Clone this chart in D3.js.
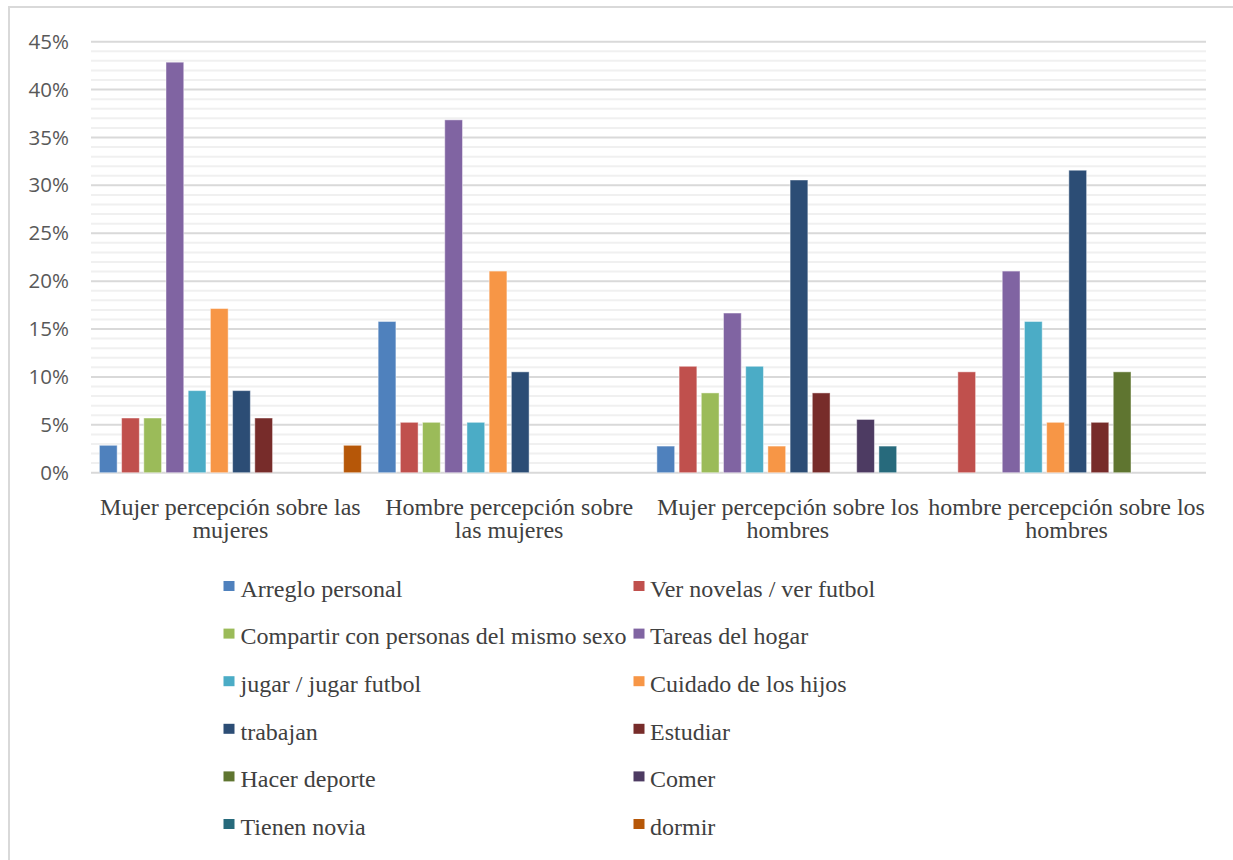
<!DOCTYPE html>
<html>
<head>
<meta charset="utf-8">
<script src="https://cdn.jsdelivr.net/npm/d3@7"></script>
<style>
  html, body { margin: 0; padding: 0; background: #fff; }
  svg { display: block; }
</style>
</head>
<body>
<svg id="chart" width="1233" height="860"></svg>
<script>
// Categories (grupos de percepción)
const categories = [
  "Mujer percepción sobre las mujeres",
  "Hombre percepción sobre las mujeres",
  "Mujer percepción sobre los hombres",
  "hombre percepción sobre los hombres"
];
// Wrapped label lines for each category
const categoryLines = [
  ["Mujer percepción sobre las", "mujeres"],
  ["Hombre percepción sobre", "las mujeres"],
  ["Mujer percepción sobre los", "hombres"],
  ["hombre percepción sobre los", "hombres"]
];

// Series (actividades)
const seriesNames = [
  "Arreglo personal", "Ver novelas / ver futbol",
  "Compartir con personas del mismo sexo", "Tareas del hogar",
  "jugar / jugar futbol", "Cuidado de los hijos",
  "trabajan", "Estudiar",
  "Hacer deporte", "Comer",
  "Tienen novia", "dormir"
];
const seriesColors = [
  "#4F81BD", "#C0504D", "#9BBB59", "#8064A2", "#4BACC6", "#F79646",
  "#2C4D75", "#772C2A", "#5F7530", "#4D3B62", "#276A7C", "#B65708"
];

// Percentages per series, one value per category
const arregloPersonal   = [2.86, 15.79, 2.78, 0];
const verNovelas        = [5.71, 5.26, 11.11, 10.53];
const compartir         = [5.71, 5.26, 8.33, 0];
const tareasHogar       = [42.86, 36.84, 16.67, 21.05];
const jugar             = [8.57, 5.26, 11.11, 15.79];
const cuidadoHijos      = [17.14, 21.05, 2.78, 5.26];
const trabajan          = [8.57, 10.53, 30.56, 31.58];
const estudiar          = [5.71, 0, 8.33, 5.26];
const hacerDeporte      = [0, 0, 0, 10.53];
const comer             = [0, 0, 5.56, 0];
const tienenNovia       = [0, 0, 2.78, 0];
const dormir            = [2.86, 0, 0, 0];

const seriesValues = [
  arregloPersonal, verNovelas, compartir, tareasHogar, jugar, cuidadoHijos,
  trabajan, estudiar, hacerDeporte, comer, tienenNovia, dormir
];

// Axis ticks
const majorTicks = [0, 5, 10, 15, 20, 25, 30, 35, 40, 45];
const minorTicks = d3.range(0, 46, 1).filter(v => v % 5 !== 0);

const svg = d3.select("#chart");

// Outer chart frame (top and left edges)
svg.append("path")
  .attr("d", "M9,860 V7 H1233")
  .attr("fill", "none")
  .attr("stroke", "#d9d9d9")
  .attr("stroke-width", 2);

const plot = { left: 91, right: 1206, top: 41.7, bottom: 472.7 };

const y = d3.scaleLinear().domain([0, 45]).range([plot.bottom, plot.top]);
const x0 = d3.scaleBand().domain(categories).range([plot.left, plot.right]).padding(0);
const x1 = d3.scaleBand().domain(seriesNames).range([0, x0.bandwidth()])
  .paddingInner(0.2).paddingOuter(0.378);

// Gridlines
svg.append("g").selectAll("line.minor")
  .data(minorTicks).join("line")
  .attr("x1", plot.left).attr("x2", plot.right)
  .attr("y1", d => y(d)).attr("y2", d => y(d))
  .attr("stroke", "#f0f0f0").attr("stroke-width", 2);

svg.append("g").selectAll("line.major")
  .data(majorTicks).join("line")
  .attr("x1", plot.left).attr("x2", plot.right)
  .attr("y1", d => y(d)).attr("y2", d => y(d))
  .attr("stroke", "#d9d9d9").attr("stroke-width", 2);

// Y axis labels
const yAxis = d3.axisLeft(y).tickValues(majorTicks).tickFormat(d => d + "%").tickSize(0).tickPadding(0);
const yg = svg.append("g").attr("transform", "translate(69,0)").call(yAxis);
yg.select(".domain").remove();
yg.selectAll("text")
  .attr("fill", "#595959")
  .style("font-family", "'Open Sans', sans-serif")
  .style("font-size", "20.5px");

// Bars
const groups = svg.append("g").selectAll("g")
  .data(categories).join("g")
  .attr("transform", d => `translate(${x0(d)},0)`);

groups.selectAll("rect")
  .data((c, ci) => seriesNames.map((s, si) => ({ s, si, v: seriesValues[si][ci] })).filter(d => d.v > 0))
  .join("rect")
  .attr("x", d => x1(d.s))
  .attr("width", x1.bandwidth())
  .attr("y", d => y(d.v))
  .attr("height", d => y(0) - y(d.v))
  .attr("fill", d => seriesColors[d.si])
  .attr("stroke", "#ffffff")
  .attr("stroke-opacity", 0.45)
  .attr("stroke-width", 1);

// Category labels (serif, two lines, centred under each group)
const catLabels = svg.append("g").selectAll("text")
  .data(categories).join("text")
  .attr("transform", d => `translate(${x0(d) + x0.bandwidth() / 2},515)`)
  .attr("text-anchor", "middle")
  .attr("fill", "#404040")
  .style("font-family", "'Liberation Serif', 'Times New Roman', serif")
  .style("font-size", "24px");
catLabels.selectAll("tspan")
  .data((d, i) => categoryLines[i]).join("tspan")
  .attr("x", 0)
  .attr("y", (d, i) => i * 23)
  .text(d => d);

// Legend: two columns, six rows
const legend = svg.append("g");
const swatchX = [223.5, 633.5];
const textX = [240.5, 650];
const rowY0 = 596.7, rowStep = 47.6;
const items = legend.selectAll("g")
  .data(seriesNames).join("g")
  .attr("transform", (d, i) => `translate(0,${rowY0 + Math.floor(i / 2) * rowStep})`);
items.append("rect")
  .attr("x", (d, i) => swatchX[i % 2]).attr("y", -15.7)
  .attr("width", 11).attr("height", 10)
  .attr("fill", (d, i) => seriesColors[i]);
items.append("text")
  .attr("x", (d, i) => textX[i % 2])
  .attr("fill", "#404040")
  .style("font-family", "'Liberation Serif', 'Times New Roman', serif")
  .style("font-size", "24px")
  .text(d => d);
</script>
</body>
</html>
